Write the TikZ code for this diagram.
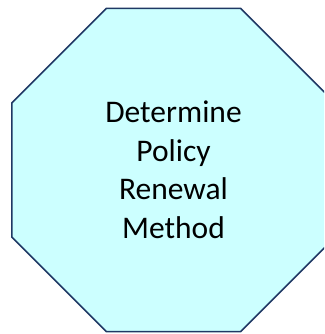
\documentclass[tikz,border=0pt]{standalone}
\usepackage{fontspec}
\setmainfont{Carlito}
\usetikzlibrary{shapes.geometric}
\definecolor{stopfill}{HTML}{CCFFFF}
\definecolor{stopline}{HTML}{1F3864}

\begin{document}
\begin{tikzpicture}[x=1pt, y=1pt]
    \tikzstyle{stop octagon} = [regular polygon, regular polygon sides=8, draw=stopline, fill=stopfill, line width=1.6pt, inner sep=0pt, minimum size=350pt, align=center, font=\fontsize{31.5}{38.5}\selectfont]
\useasboundingbox (0, 0) rectangle (324, 334);
\clip (0, 0) rectangle (324, 334);
\node[stop octagon] (method) at (173.5, 164) {Determine\\Policy\\Renewal\\Method};
\end{tikzpicture}
\end{document}
